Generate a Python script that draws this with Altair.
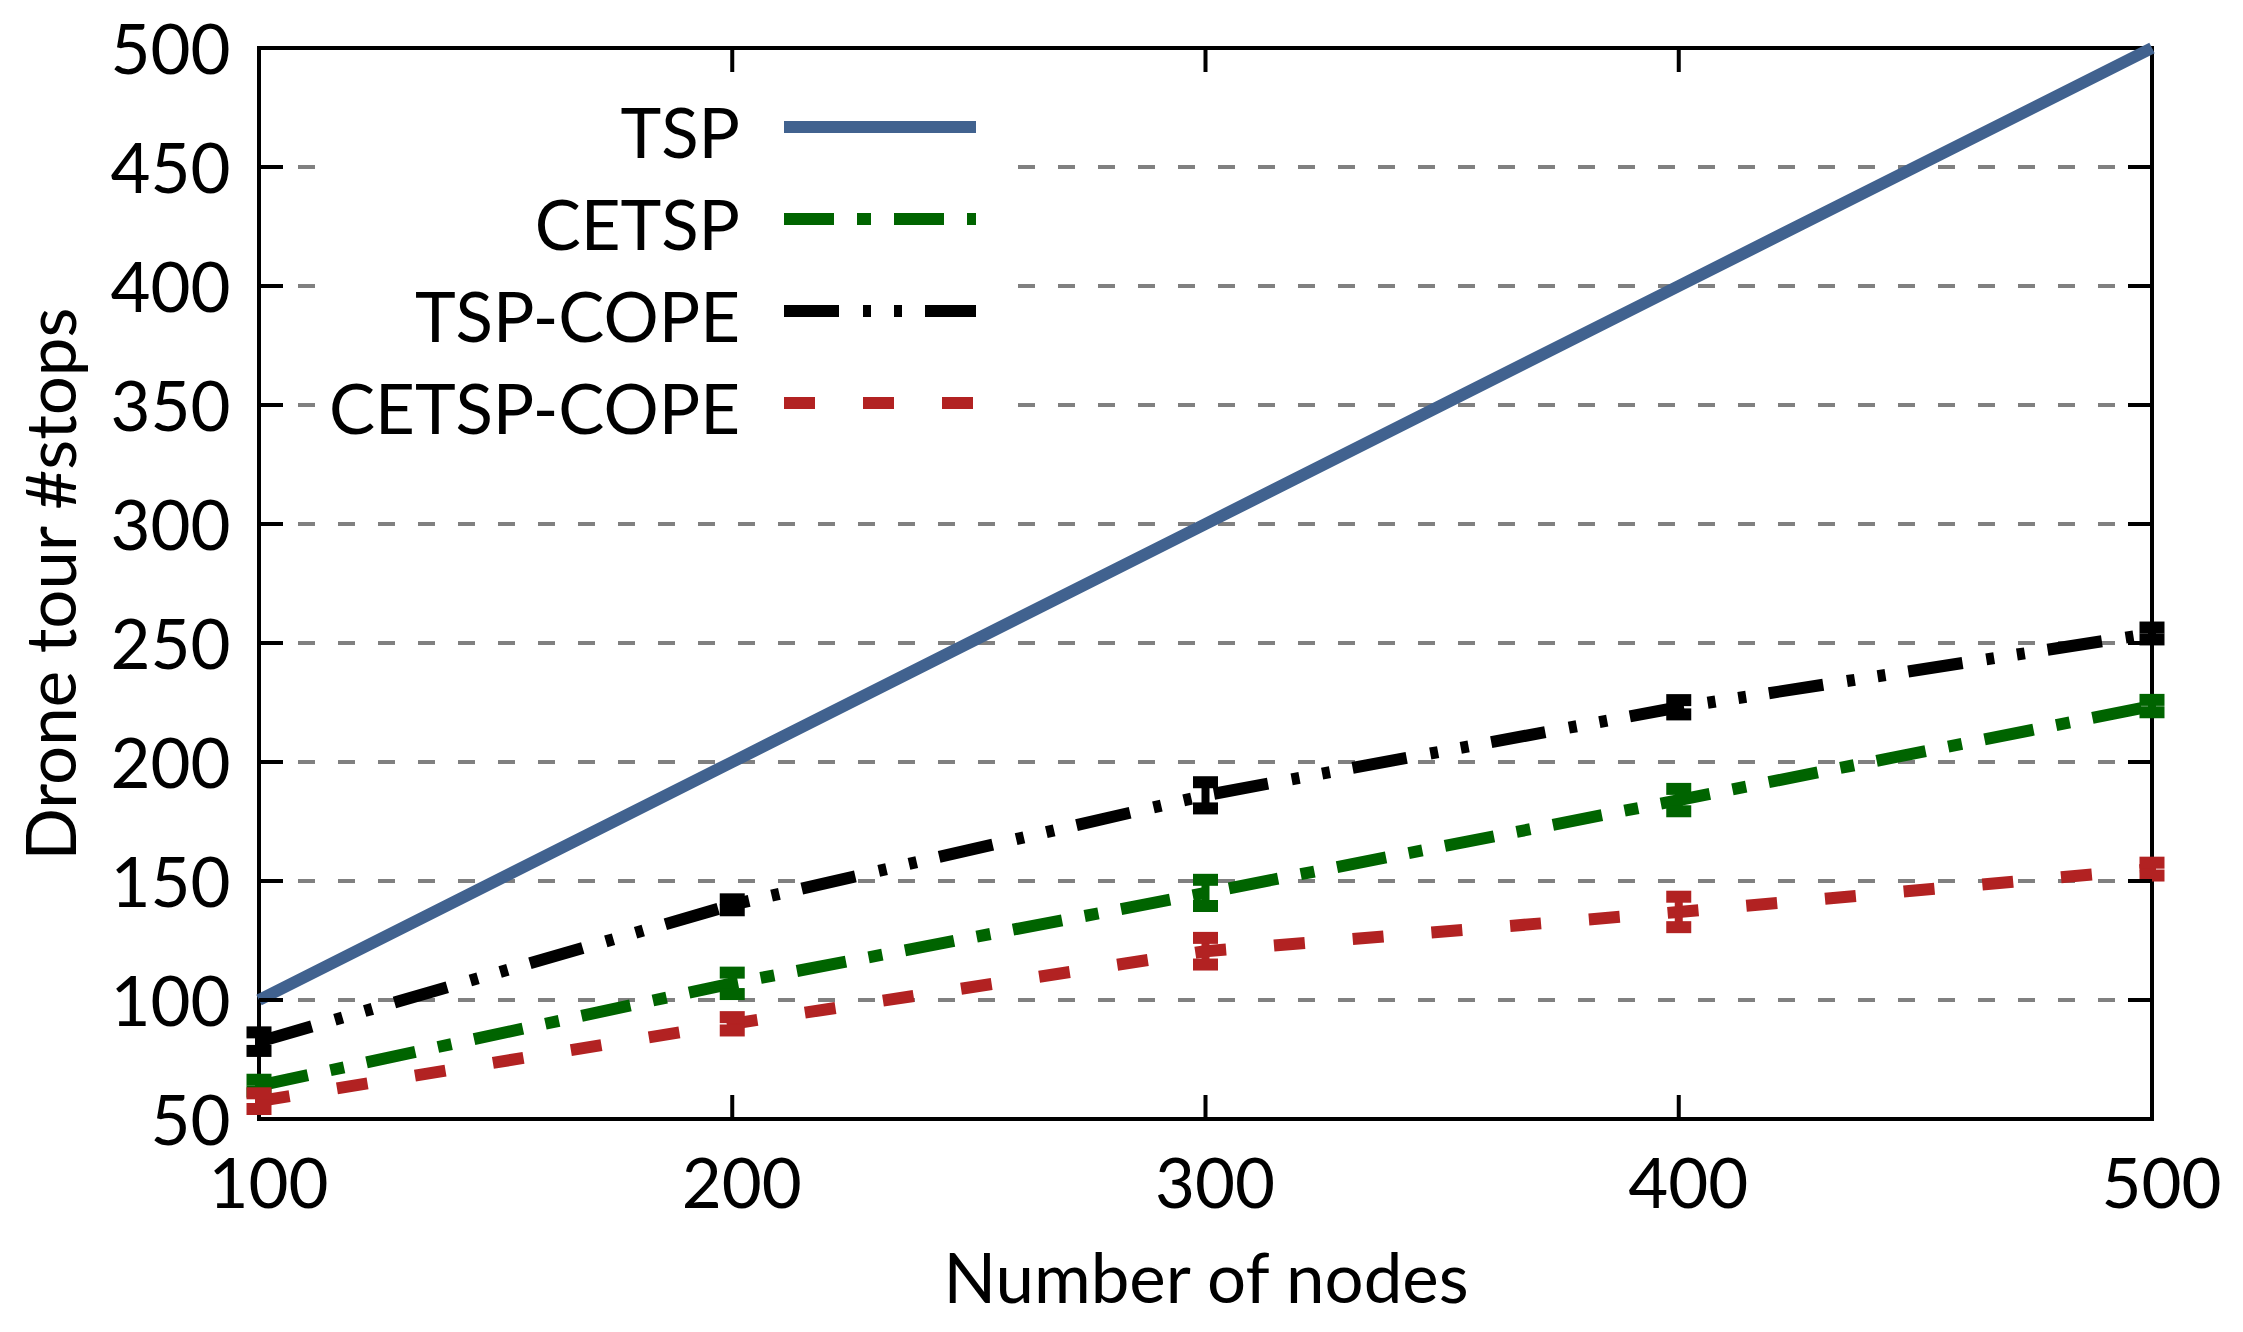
import altair as alt
import pandas as pd

# ---------------- data ----------------
nodes = [100, 200, 300, 400, 500]
series_names = ["TSP", "CETSP", "TSP-COPE", "CETSP-COPE"]
tsp = [100, 200, 300, 400, 500]
tsp_err = [0, 0, 0, 0, 0]
cetsp = [64, 107, 145, 184, 223.5]
cetsp_err = [2.5, 4.5, 5.5, 4.7, 2.6]
tsp_cope = [82.5, 140, 186, 223, 254]
tsp_cope_err = [3.9, 2.3, 5.5, 3.0, 2.5]
cetsp_cope = [57.5, 90, 120.5, 137, 155]
cetsp_cope_err = [3.3, 2.8, 5.6, 6.4, 2.7]

y_tick_values = [50, 100, 150, 200, 250, 300, 350, 400, 450, 500]
x_tick_values = [100, 200, 300, 400, 500]
grid_values = [100, 150, 200, 250, 300, 350, 400, 450]
inner_x_ticks = [200, 300, 400]

values = [tsp, cetsp, tsp_cope, cetsp_cope]
errors = [tsp_err, cetsp_err, tsp_cope_err, cetsp_cope_err]

# ---------------- styles ----------------
colors = ["#41628f", "#006400", "#000000", "#b22222"]
dashes = [None, [50, 23, 14, 23], [55, 24, 8, 23, 8, 23], [31, 48]]
FONT = "Lato"
FS = 69
W, H = 1893, 1071
TICK = 24

xscale = alt.Scale(domain=[100, 500], nice=False, zero=False)
yscale = alt.Scale(domain=[50, 500], nice=False, zero=False)

x_axis = alt.Axis(
    values=x_tick_values, title="Number of nodes", grid=False, ticks=False,
    domain=False, labelFont=FONT, labelFontSize=FS, labelColor="black",
    labelPadding=88, labelBaseline="alphabetic", labelOffset=9,
    labelFlush=False,
    titleFont=FONT, titleFontSize=FS, titleFontWeight="normal",
    titleColor="black", titleBaseline="alphabetic", titleY=183,
)
y_axis = alt.Axis(
    values=y_tick_values, title="Drone tour #stops", grid=False, ticks=False,
    domain=False, labelFont=FONT, labelFontSize=FS, labelColor="black",
    labelPadding=29, labelFlush=False, labelOffset=4,
    titleFont=FONT, titleFontSize=FS, titleFontWeight="normal",
    titleColor="black", titleAngle=-90, titleAlign="center",
    titleBaseline="alphabetic", titleX=-184, titleY=H / 2,
)


def X(field):
    return alt.X(field, type="quantitative", scale=xscale, axis=x_axis)


def Y(field):
    return alt.Y(field, type="quantitative", scale=yscale, axis=y_axis)


layers = []

# gridlines
grid_df = pd.DataFrame({"g": grid_values})
layers.append(
    alt.Chart(grid_df).mark_rule(
        color="#808080", strokeWidth=4, strokeDash=[17, 23], strokeDashOffset=25
    ).encode(y=Y("g"), x=alt.value(TICK), x2=alt.value(W - TICK - 10))
)

# white legend box
layers.append(
    alt.Chart(pd.DataFrame({"k": [0]})).mark_rect(color="white").encode(
        x=alt.value(59), x2=alt.value(753), y=alt.value(27), y2=alt.value(397)
    )
)

# series
for name, vals, errs, col, dsh in zip(series_names, values, errors, colors, dashes):
    df = pd.DataFrame({
        "nodes": nodes,
        "v": vals,
        "lo": [a - b for a, b in zip(vals, errs)],
        "hi": [a + b for a, b in zip(vals, errs)],
    })
    line_kw = dict(color=col, strokeWidth=12, strokeCap="butt")
    if dsh is not None:
        line_kw["strokeDash"] = dsh
    layers.append(alt.Chart(df).mark_line(**line_kw).encode(x=X("nodes"), y=Y("v")))
    if any(e > 0 for e in errs):
        layers.append(
            alt.Chart(df).mark_rule(color=col, strokeWidth=8).encode(
                x=X("nodes"), y=Y("lo"), y2="hi"
            )
        )
        for f in ["lo", "hi"]:
            layers.append(
                alt.Chart(df).mark_tick(
                    color=col, orient="horizontal", size=25, thickness=12, opacity=1
                ).encode(x=X("nodes"), y=Y(f))
            )

# inward ticks (left, right, bottom, top)
ytk = pd.DataFrame({"t": grid_values})
xtk = pd.DataFrame({"t": inner_x_ticks})
tick_kw = dict(color="black", strokeWidth=4)
layers.append(alt.Chart(ytk).mark_rule(**tick_kw).encode(
    y=Y("t"), x=alt.value(0), x2=alt.value(TICK)))
layers.append(alt.Chart(ytk).mark_rule(**tick_kw).encode(
    y=Y("t"), x=alt.value(W - TICK), x2=alt.value(W)))
layers.append(alt.Chart(xtk).mark_rule(**tick_kw).encode(
    x=X("t"), y=alt.value(H - TICK), y2=alt.value(H)))
layers.append(alt.Chart(xtk).mark_rule(**tick_kw).encode(
    x=X("t"), y=alt.value(0), y2=alt.value(TICK)))

# legend
for i, (name, col, dsh) in enumerate(zip(series_names, colors, dashes)):
    ldf = pd.DataFrame({"label": [name]})
    layers.append(
        alt.Chart(ldf).mark_text(
            font=FONT, fontSize=FS, align="right", baseline="alphabetic", color="black"
        ).encode(text="label:N", x=alt.value(481), y=alt.value(110 + 92 * i))
    )
    kw = dict(color=col, strokeWidth=12, strokeCap="butt")
    if dsh is not None:
        kw["strokeDash"] = dsh
    layers.append(
        alt.Chart(ldf).mark_rule(**kw).encode(
            x=alt.value(525), x2=alt.value(717), y=alt.value(79 + 92 * i)
        )
    )

chart = alt.layer(*layers).properties(
    width=W, height=H,
    padding={"left": 251, "top": 40, "right": 80, "bottom": 200},
    autosize=alt.AutoSizeParams(type="none"),
    background="white",
).configure_view(stroke="black", strokeWidth=4)

chart.save("out.html", embed_options={"renderer": "svg", "actions": False})
